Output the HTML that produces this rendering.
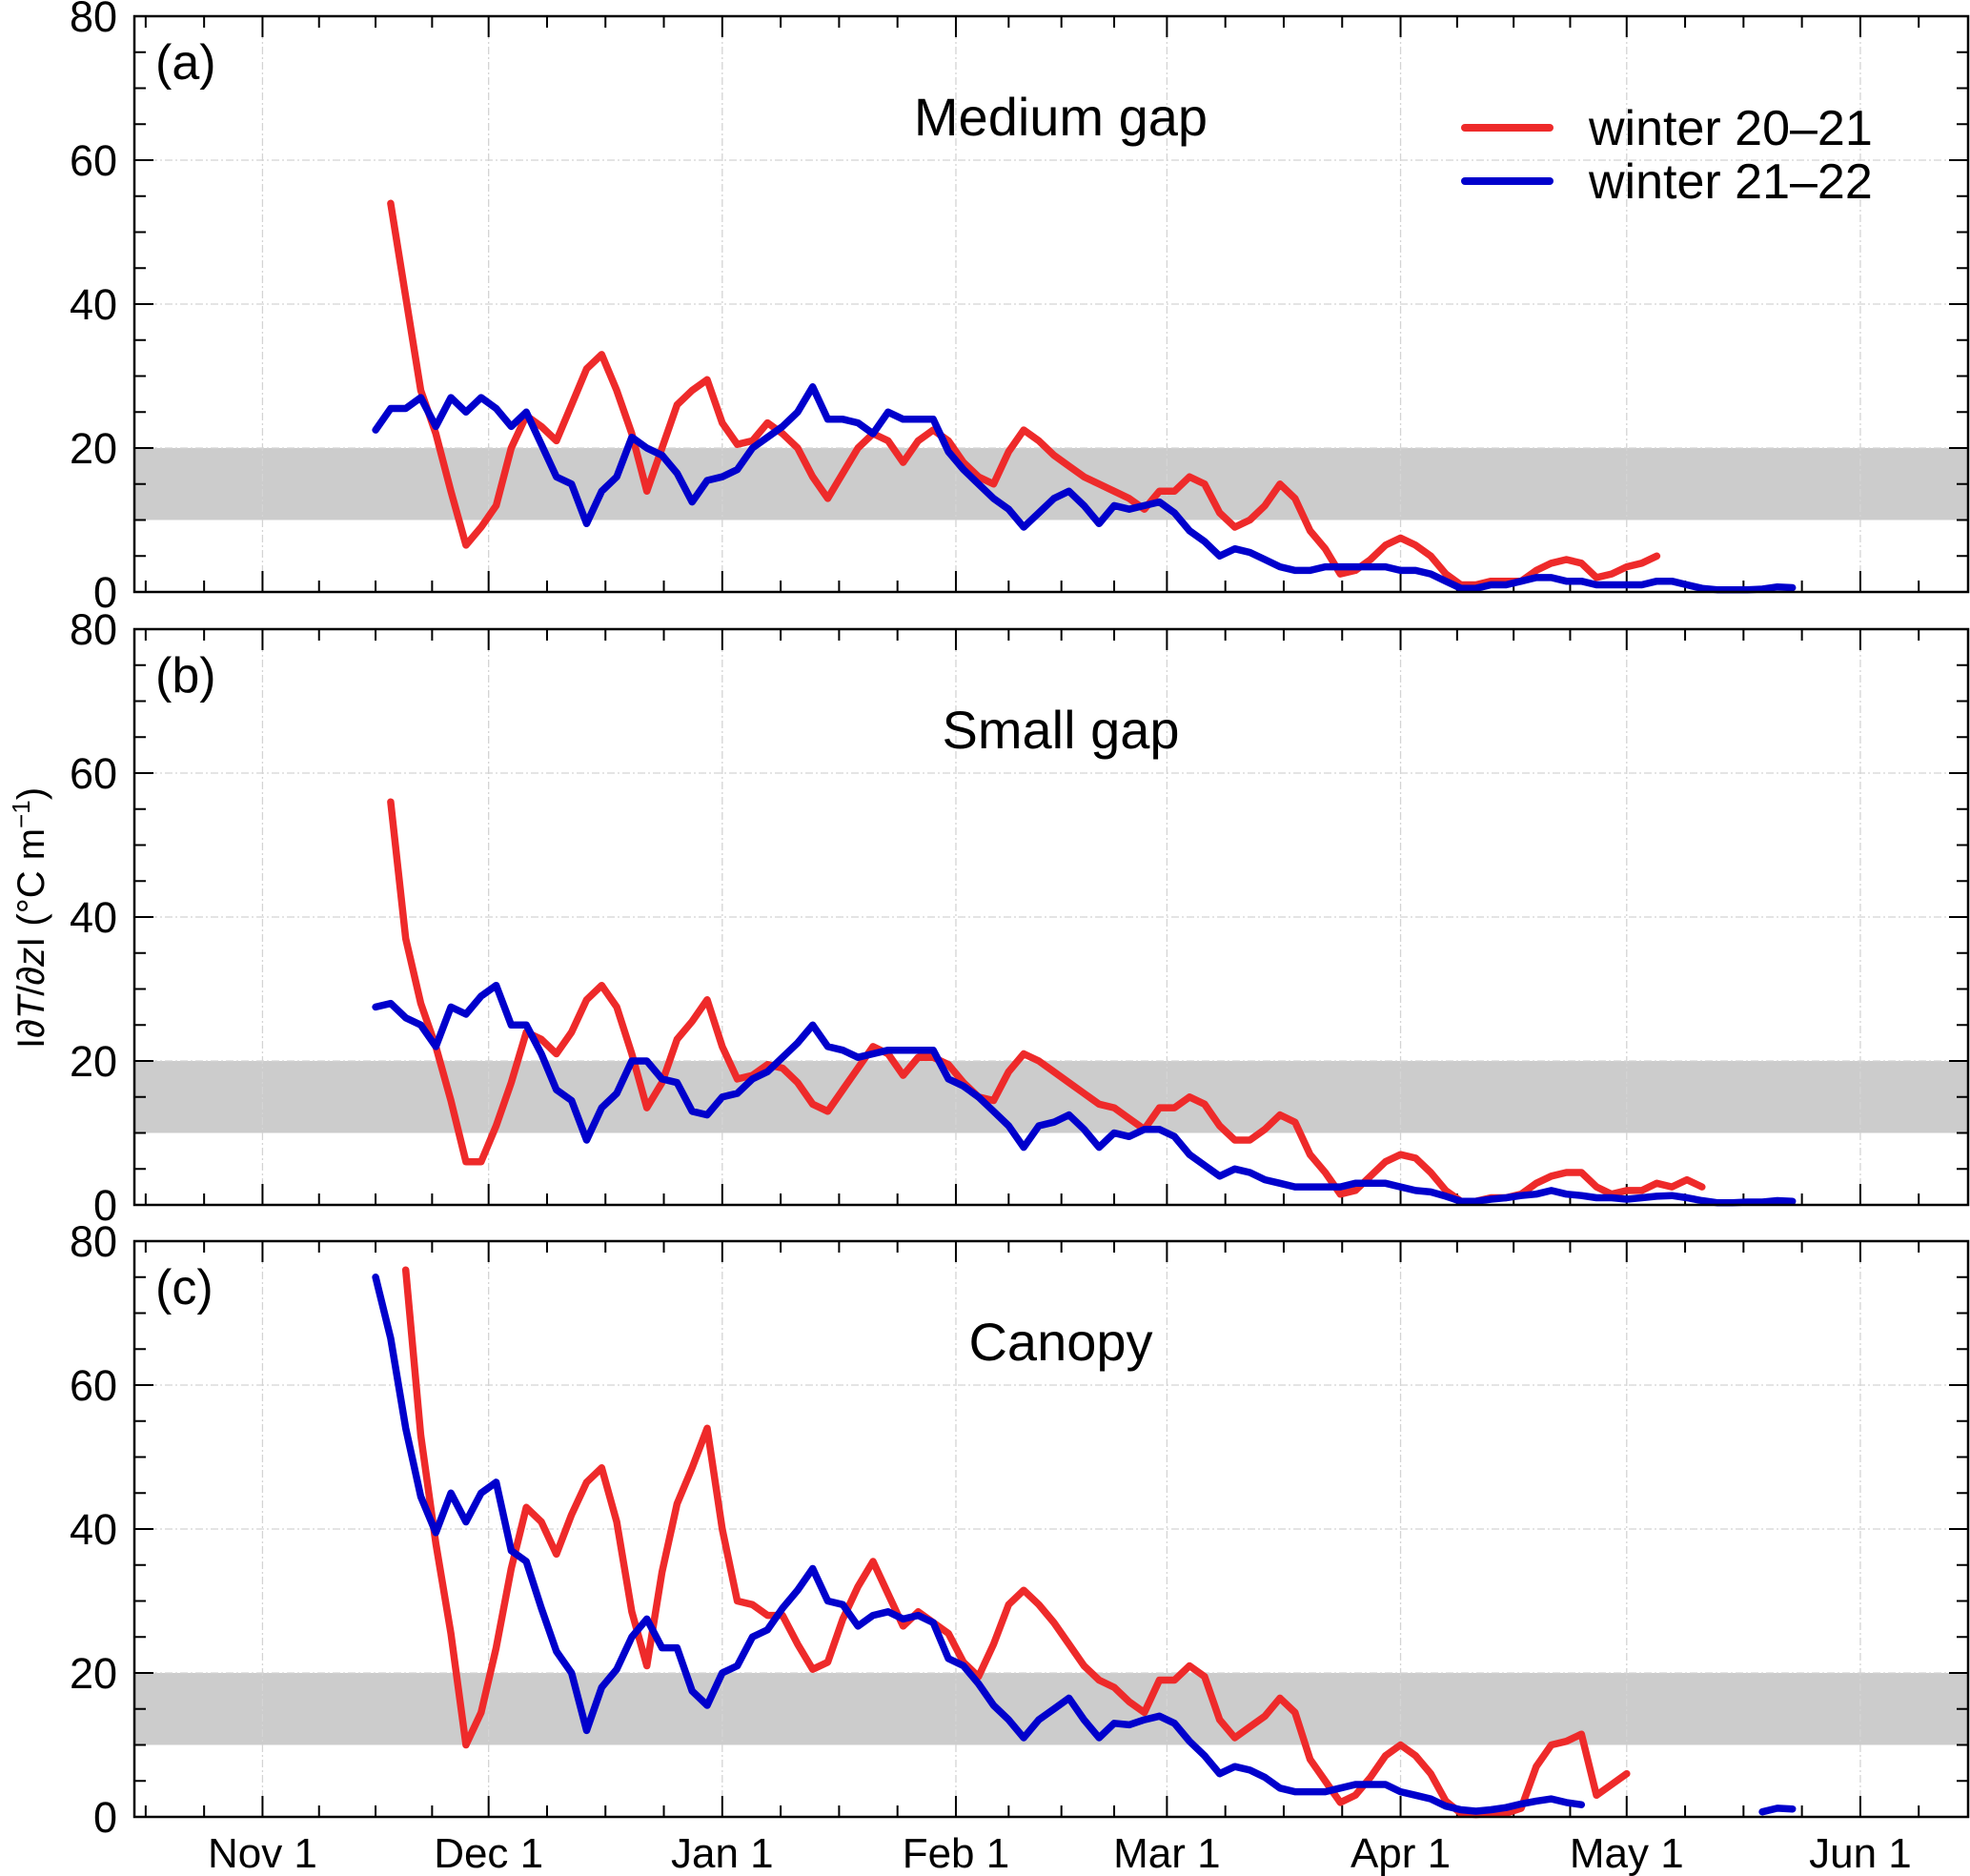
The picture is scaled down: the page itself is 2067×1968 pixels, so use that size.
<!DOCTYPE html>
<html><head><meta charset="utf-8"><style>
html,body{margin:0;padding:0;background:#fff}
svg{display:block;font-family:"Liberation Sans",Arial,sans-serif}
</style></head><body>
<svg id="chart" width="2067" height="1968" viewBox="0 0 2067 1968" xmlns="http://www.w3.org/2000/svg"></svg>
<script>
// ---- data (day offsets from Nov 1; step of 2 days) ----
const monthLabels = ["Nov 1","Dec 1","Jan 1","Feb 1","Mar 1","Apr 1","May 1","Jun 1"];
const monthDays = [0,30,61,92,120,151,181,212];
const yTicks = [0,20,40,60,80];
const panelTitles = ["Medium gap","Small gap","Canopy"];
const panelLetters = ["(a)","(b)","(c)"];
const seriesNames = ["winter 20–21","winter 21–22"];
const stepDays = 2;

const redStartA = 17;
const redA = [54,41,28,22,14,6.5,9,12,20,24.5,23,21,26,31,33,28,22,14,20,26,28,29.5,23.5,20.5,21,23.5,22,20,16,13,16.5,20,22,21,18,21,22.5,21,18,16,15,19.5,22.5,21,19,17.5,16,15,14,13,11.5,14,14,16,15,11,9,10,12,15,13,8.5,6,2.5,3,4.5,6.5,7.5,6.5,5,2.5,1,1,1.5,1.5,1.5,3,4,4.5,4,2,2.5,3.5,4,5];
const blueStartA = 15;
const blueA = [22.5,25.5,25.5,27,23,27,25,27,25.5,23,25,20.5,16,15,9.5,14,16,21.5,20,19,16.5,12.5,15.5,16,17,20,21.5,23,25,28.5,24,24,23.5,22,25,24,24,24,19.5,17,15,13,11.5,9,11,13,14,12,9.5,12,11.5,12,12.5,11,8.5,7,5,6,5.5,4.5,3.5,3,3,3.5,3.5,3.5,3.5,3.5,3,3,2.5,1.5,0.5,0.5,1,1,1.5,2,2,1.5,1.5,1,1,1,1,1.5,1.5,1,0.5,0.3,0.3,0.3,0.4,0.7,0.6];

const redStartB = 17;
const redB = [56,37,28,22,14.5,6,6,11,17,24,23,21,24,28.5,30.5,27.5,21,13.5,17,23,25.5,28.5,22,17.5,18,19.5,19,17,14,13,16,19,22,21,18,20.5,20.5,19.5,17,15,14.5,18.5,21,20,18.5,17,15.5,14,13.5,12,10.5,13.5,13.5,15,14,11,9,9,10.5,12.5,11.5,7,4.5,1.5,2,4,6,7,6.5,4.5,2,0.5,0.5,1,1,1.5,3,4,4.5,4.5,2.5,1.5,2,2,3,2.5,3.5,2.5];
const blueStartB = 15;
const blueB = [27.5,28,26,25,22,27.5,26.5,29,30.5,25,25,21,16,14.5,9,13.5,15.5,20,20,17.5,17,13,12.5,15,15.5,17.5,18.5,20.5,22.5,25,22,21.5,20.5,21,21.5,21.5,21.5,21.5,17.5,16.5,15,13,11,8,11,11.5,12.5,10.5,8,10,9.5,10.5,10.5,9.5,7,5.5,4,5,4.5,3.5,3,2.5,2.5,2.5,2.5,3,3,3,2.5,2,1.8,1.2,0.5,0.5,0.8,1,1.3,1.5,2,1.5,1.3,1,1,0.8,1,1.2,1.3,1,0.6,0.3,0.3,0.4,0.4,0.6,0.5];

const redStartC = 19;
const redC = [76,53,38,25.5,10,14.5,23.5,34.5,43,41,36.5,42,46.5,48.5,41,28.5,21,34,43.5,48.5,54,40,30,29.5,28,28,24,20.5,21.5,27.5,32,35.5,31,26.5,28.5,27,25.5,21.5,19.5,24,29.5,31.5,29.5,27,24,21,19,18,16,14.5,19,19,21,19.5,13.5,11,12.5,14,16.5,14.5,8,5,2,3,5.5,8.5,10,8.5,6,2.2,0.5,0.3,0.5,0.5,1.2,7,10,10.5,11.5,3,4.5,6];
const blueStartC = 15;
const blueC = [75,66.5,54,44.5,39.5,45,41,45,46.5,37,35.5,29,23,20,12,18,20.5,25,27.5,23.5,23.5,17.5,15.5,20,21,25,26,29,31.5,34.5,30,29.5,26.5,28,28.5,27.5,28,27,22,21,18.5,15.5,13.5,11,13.5,15,16.5,13.5,11,13,12.8,13.5,14,13,10.5,8.5,6,7,6.5,5.5,4,3.5,3.5,3.5,4,4.5,4.5,4.5,3.5,3,2.5,1.5,1,0.8,1,1.3,1.8,2.2,2.5,2,1.7,null,null,null,null,null,null,null,null,null,null,null,0.7,1.2,1.1];

const panels = [
  {redStart:redStartA, red:redA, blueStart:blueStartA, blue:blueA},
  {redStart:redStartB, red:redB, blueStart:blueStartB, blue:blueB},
  {redStart:redStartC, red:redC, blueStart:blueStartC, blue:blueC}
];

// ---- layout ----
const NS = "http://www.w3.org/2000/svg";
const svg = document.getElementById('chart');
const L = 141, R = 2065;
const tops = [17, 660, 1302], H = 604;
const dayMin = -17, dayMax = 226.3;
const RED = "#ee2a2a", BLUE = "#0000cc";
function xs(d){ return L + (d - dayMin) / (dayMax - dayMin) * (R - L); }
function ys(v, p){ return tops[p] + H - v / 80 * H; }
function mk(tag, attrs, parent){
  const e = document.createElementNS(NS, tag);
  for (const k in attrs) e.setAttribute(k, attrs[k]);
  (parent || svg).appendChild(e);
  return e;
}

const minorDays = [];
for (let i = -1; i < monthDays.length; i++) {
  const a = i < 0 ? -31 : monthDays[i];
  const b = i + 1 < monthDays.length ? monthDays[i+1] : 243;
  for (let q = 1; q < 4; q++) minorDays.push(a + (b - a) * q / 4);
}

panels.forEach((pd, p) => {
  const g = mk('g', {});
  
  
  const top = tops[p], bot = top + H;
  const band = mk('rect', {x:L, y:ys(20,p), width:R-L, height:ys(10,p)-ys(20,p), fill:"#cccccc"}, g);
  
  
  monthDays.forEach(d => {
    const gl = mk('line', {x1:xs(d), x2:xs(d), y1:top, y2:bot, stroke:"#d4d4d4", "stroke-width":1.3, "stroke-dasharray":"8 3 2 3"}, g);
    
    
  });
  yTicks.forEach(v => {
    if (v === 0 || v === 80) return;
    const gl = mk('line', {x1:L, x2:R, y1:ys(v,p), y2:ys(v,p), stroke:"#d4d4d4", "stroke-width":1.3, "stroke-dasharray":"8 3 2 3"}, g);
    
    
  });
  monthDays.forEach(d => {
    mk('line', {x1:xs(d), x2:xs(d), y1:bot, y2:bot-22, stroke:"#000", "stroke-width":2}, g);
    mk('line', {x1:xs(d), x2:xs(d), y1:top, y2:top+22, stroke:"#000", "stroke-width":2}, g);
  });
  minorDays.forEach(d => {
    if (xs(d) <= L || xs(d) >= R) return;
    mk('line', {x1:xs(d), x2:xs(d), y1:bot, y2:bot-12, stroke:"#000", "stroke-width":2}, g);
    mk('line', {x1:xs(d), x2:xs(d), y1:top, y2:top+12, stroke:"#000", "stroke-width":2}, g);
  });
  for (let v = 5; v < 80; v += 5) {
    const len = (v % 20 === 0) ? 20 : 12;
    mk('line', {x1:L, x2:L+len, y1:ys(v,p), y2:ys(v,p), stroke:"#000", "stroke-width":2}, g);
    mk('line', {x1:R, x2:R-len, y1:ys(v,p), y2:ys(v,p), stroke:"#000", "stroke-width":2}, g);
  }
  yTicks.forEach(v => {
    const t = mk('text', {x:L-18, y:ys(v,p)+16, "text-anchor":"end", "font-size":45, fill:"#000"}, g);
    t.textContent = v;
    
    
  });
  function drawSeries(start, vals, color, name){
    let d = "", pen = false;
    vals.forEach((v, i) => {
      if (v === null) { pen = false; return; }
      d += (pen ? "L" : "M") + xs(start + i*stepDays).toFixed(1) + "," + ys(v,p).toFixed(1);
      pen = true;
    });
    const path = mk('path', {d:d, fill:"none", stroke:color, "stroke-width":7.5, "stroke-linejoin":"round", "stroke-linecap":"round"}, g);
    
    
  }
  drawSeries(pd.redStart, pd.red, RED, 'series-winter-20-21');
  drawSeries(pd.blueStart, pd.blue, BLUE, 'series-winter-21-22');
  const fr = mk('rect', {x:L, y:top, width:R-L, height:H, fill:"none", stroke:"#000", "stroke-width":2.5}, g);
  
  
  const lt = mk('text', {x:163, y:top+66, "font-size":52, fill:"#000"}, g);
  lt.textContent = panelLetters[p];
  
  
  const tt = mk('text', {x:1113, y:top+125, "text-anchor":"middle", "font-size":56, fill:"#000"}, g);
  tt.textContent = panelTitles[p];
  
  
});

monthDays.forEach((d, i) => {
  const t = mk('text', {x:xs(d), y:1959, "text-anchor":"middle", "font-size":44, fill:"#000"});
  t.textContent = monthLabels[i];
  
  
});

const lg = mk('g', {});


[RED, BLUE].forEach((c, i) => {
  const ln = mk('line', {x1:1537, x2:1626, y1:134+56*i, y2:134+56*i, stroke:c, "stroke-width":8, "stroke-linecap":"round"}, lg);
  
  
  const t = mk('text', {x:1667, y:152+56*i, "font-size":52, fill:"#000"}, lg);
  t.textContent = seriesNames[i];
  
  
});

const yt = mk('text', {x:0, y:0, "text-anchor":"middle", "font-size":40, fill:"#000", transform:"translate(46,963) rotate(-90)"});


yt.innerHTML = 'I∂<tspan font-style="italic">T</tspan>/∂<tspan font-style="italic">z</tspan>I (°C m<tspan dy="-15" font-size="26">−1</tspan><tspan dy="15">)</tspan>';
</script>
</body></html>
